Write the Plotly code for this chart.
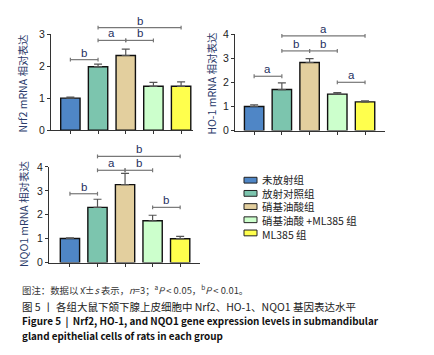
import plotly.graph_objects as go

# ---------------- data ----------------
groups = ["未放射组", "放射对照组", "硝基油酸组", "硝基油酸 +ML385 组", "ML385 组"]
bar_colors = ["#4F86C6", "#7CC5AE", "#E3CF9E", "#CCFFCC", "#FFFF4D"]

nrf2_mean = [1.00, 1.98, 2.33, 1.37, 1.37]
nrf2_sd = [0.03, 0.08, 0.20, 0.12, 0.14]
ho1_mean = [1.00, 1.70, 2.82, 1.51, 1.19]
ho1_sd = [0.07, 0.28, 0.16, 0.06, 0.04]
nqo1_mean = [1.01, 2.31, 3.26, 1.75, 1.00]
nqo1_sd = [0.03, 0.34, 0.47, 0.23, 0.10]

# significance brackets: (from group, to group, height, label)
nrf2_sig = [(0, 1, 2.20, "b"), (1, 2, 2.80, "a"), (2, 3, 2.80, "b"), (1, 4, 3.20, "b")]
ho1_sig = [(0, 1, 2.25, "a"), (1, 2, 3.30, "b"), (2, 3, 3.30, "b"), (1, 4, 3.92, "a"), (3, 4, 2.00, "a")]
nqo1_sig = [(0, 1, 2.88, "b"), (1, 2, 3.86, "a"), (2, 3, 3.86, "b"), (1, 4, 4.44, "b"), (3, 4, 2.31, "b")]

y_titles = ["Nrf2 mRNA 相对表达", "HO-1 mRNA 相对表达", "NQO1 mRNA 相对表达"]
y_tickvals = [[0, 1, 2, 3], [0, 1, 2, 3, 4], [0, 1, 2, 3, 4]]

caption1 = "图注：数据以 x̄±<i>s</i> 表示，<i>n</i>=3；<sup>a</sup><i>P</i> &lt; 0.05，<sup>b</sup><i>P</i> &lt; 0.01。"
caption2 = "图 5 丨 各组大鼠下颌下腺上皮细胞中 Nrf2、HO-1、NQO1 基因表达水平"
caption3 = "<b>Figure 5  |  Nrf2, HO-1, and NQO1 gene expression levels in submandibular</b>"
caption4 = "<b>gland epithelial cells of rats in each group</b>"

# ---------------- layout helpers ----------------
W, H = 434, 355
FONT = "Liberation Sans, Noto Sans CJK SC, sans-serif"
CJK = "Noto Sans CJK SC, Liberation Sans, sans-serif"
AX_COL = "#333333"

def px_x(p):
    return p / W

def px_y(p):
    return 1 - p / H

# panel geometry in pixels: (x_left, x_right, y_bottom, y_top), x range, y range
panels = [
    dict(means=nrf2_mean, sd=nrf2_sd, sig=nrf2_sig, px=(43, 185, 120.3, 20.7),
         xr=[-0.70, 4.43], yr=[0, 3], title_xy=(15, 72)),
    dict(means=ho1_mean, sd=ho1_sd, sig=ho1_sig, px=(227, 377, 120.7, 20.7),
         xr=[-0.69, 4.72], yr=[0, 4], title_xy=(204, 72)),
    dict(means=nqo1_mean, sd=nqo1_sd, sig=nqo1_sig, px=(41, 192, 257.3, 158.3),
         xr=[-0.76, 4.72], yr=[0, 4], title_xy=(15, 207)),
]

fig = go.Figure()
shapes = []
annotations = []
x_idx = list(range(len(groups)))

for k, p in enumerate(panels):
    n = "" if k == 0 else str(k + 1)
    xa, ya = "x" + n, "y" + n
    xl, xr_, yb, yt = p["px"]
    dom_x = [px_x(xl), px_x(xr_)]
    dom_y = [px_y(yb), px_y(yt)]

    fig.add_trace(go.Bar(
        x=x_idx, y=p["means"], width=0.70,
        marker=dict(color=bar_colors, line=dict(color="#111111", width=1.4)),
        error_y=dict(type="data", symmetric=False, array=p["sd"],
                     arrayminus=[0] * len(groups), color="#555555",
                     thickness=1.2, width=4),
        xaxis=xa, yaxis=ya, showlegend=False, hoverinfo="skip",
    ))

    axis_common = dict(showline=True, linecolor=AX_COL, linewidth=1.3, ticks="outside",
                       ticklen=3, tickwidth=1, tickcolor=AX_COL, showgrid=False,
                       zeroline=False, fixedrange=True)
    fig.update_layout(**{
        ("xaxis" + n): dict(domain=dom_x, range=p["xr"], tickvals=x_idx,
                            showticklabels=False, anchor=ya, **axis_common),
        ("yaxis" + n): dict(domain=dom_y, range=p["yr"], tickvals=y_tickvals[k],
                            tickfont=dict(size=10.5, color="#222222", family=FONT),
                            anchor=xa, **axis_common),
    })

    # value -> paper y (for brackets that may exceed the axis range)
    y0, y1 = p["yr"]
    def vy(v, y0=y0, y1=y1, d=dom_y):
        return d[0] + (v - y0) / (y1 - y0) * (d[1] - d[0])
    cap = 2.0 / H

    for (i, j, h, lab) in p["sig"]:
        yp = vy(h)
        line = dict(color="#777777", width=1.2)
        shapes.append(dict(type="line", xref=xa, yref="paper", x0=i, x1=j, y0=yp, y1=yp, line=line))
        for xe in (i, j):
            shapes.append(dict(type="line", xref=xa, yref="paper", x0=xe, x1=xe,
                               y0=yp - cap, y1=yp + cap, line=line))
        annotations.append(dict(xref=xa, yref="paper", x=(i + j) / 2, y=yp,
                                yanchor="bottom", yshift=-1, showarrow=False, text=lab,
                                font=dict(size=11.5, color="#1F2F5F", family=FONT)))

    tx, ty = p["title_xy"]
    annotations.append(dict(xref="paper", yref="paper", x=px_x(tx), y=px_y(ty),
                            text=y_titles[k], textangle=-90, showarrow=False,
                            xanchor="center", yanchor="middle",
                            font=dict(size=10.5, color="#2A3A6A", family=CJK)))

# ---------------- legend (drawn manually) ----------------
leg_x0, leg_x1, leg_text = 236, 249, 253
leg_y0, leg_font = 172, 10.5
leg_dy = 1.3 * leg_font
for g, col in enumerate(bar_colors):
    yc = leg_y0 + g * leg_dy
    shapes.append(dict(type="rect", xref="paper", yref="paper",
                       x0=px_x(leg_x0), x1=px_x(leg_x1), y0=px_y(yc + 3), y1=px_y(yc - 3),
                       fillcolor=col, line=dict(color="#222222", width=1)))
annotations.append(dict(xref="paper", yref="paper", x=px_x(leg_text),
                        y=px_y(leg_y0 + 2 * leg_dy), xanchor="left", yanchor="middle",
                        align="left", showarrow=False, borderpad=0,
                        text="<br>".join(groups),
                        font=dict(size=leg_font, color="#222222", family=CJK)))

# ---------------- captions ----------------
for txt, yc, size, col in [(caption1, 285, 9.4, "#333333"), (caption2, 303, 10.5, "#222222"),
                           (caption3, 318, 9.9, "#111111"), (caption4, 333, 9.9, "#111111")]:
    annotations.append(dict(xref="paper", yref="paper", x=px_x(12), y=px_y(yc),
                            xanchor="left", yanchor="middle", showarrow=False, text=txt,
                            font=dict(size=size, color=col, family=CJK)))

fig.update_layout(width=W, height=H, autosize=False,
                  margin=dict(l=0, r=0, t=0, b=0),
                  paper_bgcolor="white", plot_bgcolor="white",
                  shapes=shapes, annotations=annotations, bargap=0.3)

fig.write_html("out.html")
